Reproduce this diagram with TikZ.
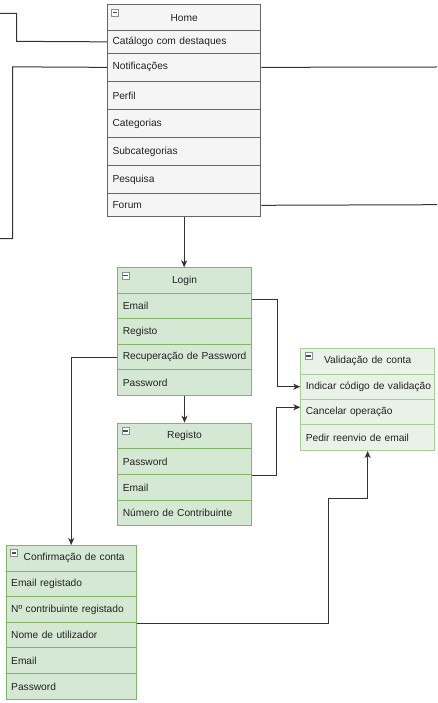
\documentclass[tikz,border=0pt]{standalone}
\usepackage{fontspec}
\setmainfont{Liberation Sans}
\usetikzlibrary{arrows.meta}
\definecolor{homefill}{HTML}{F5F5F5}
\definecolor{homeline}{HTML}{666666}
\definecolor{grfill}{HTML}{D5E8D4}
\definecolor{grline}{HTML}{82B366}
\definecolor{ltfill}{HTML}{E9F2E7}
\definecolor{ltline}{HTML}{A9CD9A}
\definecolor{txt}{HTML}{222222}
\definecolor{conn}{HTML}{333333}
\definecolor{icoline}{HTML}{8A8F99}
\begin{document}
\begin{tikzpicture}[x=1pt,y=-1pt,
  base/.style={anchor=north west, inner sep=0pt, inner xsep=5pt,
    font=\fontsize{10.2}{12}\selectfont, text=txt, line width=1pt},
  homerow/.style={base, draw=homeline, fill=homefill, text width=143.3pt, align=left},
  homehead/.style={homerow, align=center},
  grrow/.style={base, draw=grline, fill=grfill, text width=123.4pt, align=left},
  grhead/.style={grrow, align=center},
  cfrow/.style={base, draw=grline, fill=grfill, text width=120pt, align=left},
  cfhead/.style={cfrow, align=center},
  ltrow/.style={base, draw=ltline, fill=ltfill, text width=123.7pt, align=left},
  lthead/.style={ltrow, align=center},
  icon/.style={anchor=north west, draw=icoline, fill=white, line width=0.7pt,
    minimum width=7pt, minimum height=7pt, inner sep=0pt,
    path picture={\fill[black!70] ([xshift=1.3pt,yshift=-0.9pt]path picture bounding box.west)
      rectangle ([xshift=-1.3pt,yshift=0.9pt]path picture bounding box.east);}},
  conn/.style={draw=conn, line width=1pt},
  arr/.style={conn, -{Stealth[length=7pt,width=6pt,inset=2pt]}}
]
\useasboundingbox (0,0) rectangle (437,703);

% Home
\node[homehead, minimum height=25.7pt] (hh) at (107,4.3) {Home};
\node[homerow, minimum height=22.7pt] (hcat) at (107,30) {Catálogo com destaques};
\node[homerow, minimum height=28.3pt] (hnot) at (107,52.7) {Notificações};
\node[homerow, minimum height=28pt] (hper) at (107,81) {Perfil};
\node[homerow, minimum height=28pt] (hcatg) at (107,109) {Categorias};
\node[homerow, minimum height=28.3pt] (hsub) at (107,137) {Subcategorias};
\node[homerow, minimum height=28pt] (hpes) at (107,165.3) {Pesquisa};
\node[homerow, minimum height=23pt] (hfor) at (107,193.3) {Forum};
\node[icon] (hi) at ([xshift=4.3pt,yshift=-4.3pt]hh.north west) {};

% Login
\node[grhead, minimum height=25.4pt] (lh) at (117.3,267.3) {Login};
\node[grrow, minimum height=25.6pt] (lemail) at (117.3,292.7) {Email};
\node[grrow, minimum height=25.4pt] (lreg) at (117.3,318.3) {Registo};
\node[grrow, minimum height=25.6pt] (lrec) at (117.3,343.7) {\mbox{Recuperação de Password}};
\node[grrow, minimum height=25.7pt] (lpass) at (117.3,369.3) {Password};
\node[icon] (li) at ([xshift=4.3pt,yshift=-4.3pt]lh.north west) {};

% Registo
\node[grhead, minimum height=25.6pt] (rh) at (117.3,422.7) {Registo};
\node[grrow, minimum height=25.7pt] (rpass) at (117.3,448.3) {Password};
\node[grrow, minimum height=25.7pt] (remail) at (117.3,474) {Email};
\node[grrow, minimum height=25.3pt] (rnum) at (117.3,499.7) {Número de Contribuinte};
\node[icon] (ri) at ([xshift=4.3pt,yshift=-4.3pt]rh.north west) {};

% Validacao de conta
\node[lthead, minimum height=25.7pt] (vh) at (300.3,348) {Validação de conta};
\node[ltrow, minimum height=25pt] (vind) at (300.3,373.7) {\mbox{Indicar código de validação}};
\node[ltrow, minimum height=25.3pt] (vcan) at (300.3,398.7) {Cancelar operação};
\node[ltrow, minimum height=26pt] (vped) at (300.3,424) {Pedir reenvio de email};
\node[icon] (vi) at ([xshift=4.3pt,yshift=-4.3pt]vh.north west) {};

% Confirmacao de conta
\node[cfhead, minimum height=25.7pt] (ch) at (5.7,545) {\hspace{6pt}Confirmação de conta};
\node[cfrow, minimum height=25.6pt] (cer) at (5.7,570.7) {Email registado};
\node[cfrow, minimum height=25.7pt] (cnum) at (5.7,596.3) {\mbox{Nº contribuinte registado}};
\node[cfrow, minimum height=25.3pt] (cnom) at (5.7,622) {Nome de utilizador};
\node[cfrow, minimum height=25.7pt] (cem) at (5.7,647.3) {Email};
\node[cfrow, minimum height=25.7pt] (cpw) at (5.7,673) {Password};
\node[icon] (ci) at ([xshift=4.3pt,yshift=-4.3pt]ch.north west) {};

% free ends
\coordinate (e1) at (0,13.3);
\coordinate (e2) at (0,238.7);
\coordinate (e3) at (437,67);
\coordinate (e4) at (437,204.7);

% connectors
\draw[conn] (hcat.west) -- (16.7,41.35) -- (16.7,13.3) -- (e1);
\draw[conn] (hnot.west) -- (12.7,66.85) -- (12.7,238.7) -- (e2);
\draw[conn] (hnot.east) -- (e3);
\draw[conn] (hfor.east) -- (e4);
\draw[arr] (hfor.south) -- (hfor.south |- lh.north);
\draw[arr] (lpass.south) -- (rh.north);
\draw[arr] ([yshift=6.2pt]lemail.east) -| ([xshift=-23.3pt]vind.west) -- (vind.west);
\draw[arr] (rpass.south east) -| ([xshift=-24.3pt,yshift=4.6pt]vcan.west) -- ([yshift=4.6pt]vcan.west);
\draw[arr] (lrec.west) -| (ch.north);
\draw[arr] (cnum.south east) -| (328.3,498.3) -| (vped.south);
\end{tikzpicture}
\end{document}
